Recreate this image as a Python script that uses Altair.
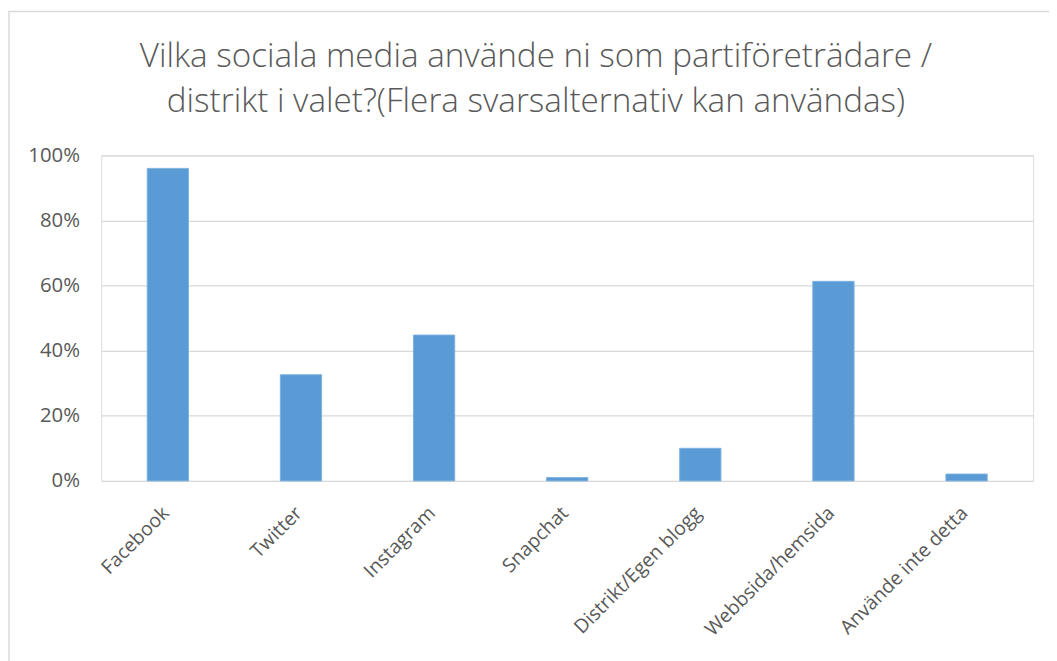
import altair as alt
import pandas as pd

categories = ["Facebook", "Twitter", "Instagram", "Snapchat", "Distrikt/Egen blogg", "Webbsida/hemsida", "Använde inte detta"]
values = [0.96, 0.326, 0.448, 0.01, 0.10, 0.613, 0.021]
y_ticks = [0, 0.2, 0.4, 0.6, 0.8, 1.0]
title_lines = ["Vilka sociala media använde ni som partiföreträdare /", "distrikt i valet?(Flera svarsalternativ kan användas)"]

df = pd.DataFrame({"cat": categories, "val": values})

W, H = 939, 328
PL, PT = 94, 146

border = alt.Chart(pd.DataFrame({"a": [0]})).mark_rect(
    fillOpacity=0, stroke="#d9d9d9", strokeWidth=1.5, clip=False
).encode(
    x=alt.value(-PL + 1), x2=alt.value(W + 40),
    y=alt.value(-PT + 1), y2=alt.value(H + 200),
)

title_layers = []
for i, line in enumerate(title_lines):
    title_layers.append(
        alt.Chart(pd.DataFrame({"t": [line]})).mark_text(
            font="Open Sans", fontSize=33.5, fontWeight=300, color="#595959",
            align="center", baseline="alphabetic", clip=False
        ).encode(text="t:N", x=alt.value(438), y=alt.value(-89 + 45 * i))
    )

bars = alt.Chart(df).mark_bar(color="#5b9bd5", stroke="#7eb1e0", strokeWidth=1).encode(
    x=alt.X("cat:N", sort=categories, title=None,
            scale=alt.Scale(paddingInner=0.69, paddingOuter=0.345),
            axis=alt.Axis(labelAngle=-45, labelAlign="right", labelBaseline="middle",
                          labelFontSize=19.5, labelColor="#595959", labelFont="Open Sans",
                          labelPadding=29, ticks=False, domain=False, grid=False,
                          labelOffset=-2)),
    y=alt.Y("val:Q", title=None,
            scale=alt.Scale(domain=[0, 1], nice=False),
            axis=alt.Axis(values=y_ticks, format=".0%", labelFontSize=20.5, labelColor="#595959",
                          labelFont="Open Sans", ticks=False, domain=False, labelPadding=22,
                          gridColor="#d9d9d9", gridWidth=1.5)),
)

chart = alt.layer(bars, border, *title_layers).properties(
    width=W, height=H,
    autosize=alt.AutoSizeParams(type="none"),
    padding={"left": PL, "top": PT, "right": 1049 - PL - W, "bottom": 653 - PT - H},
).configure_view(stroke=None).configure(background="white")

chart.save("out.html", embed_options={"renderer": "svg", "actions": False})
